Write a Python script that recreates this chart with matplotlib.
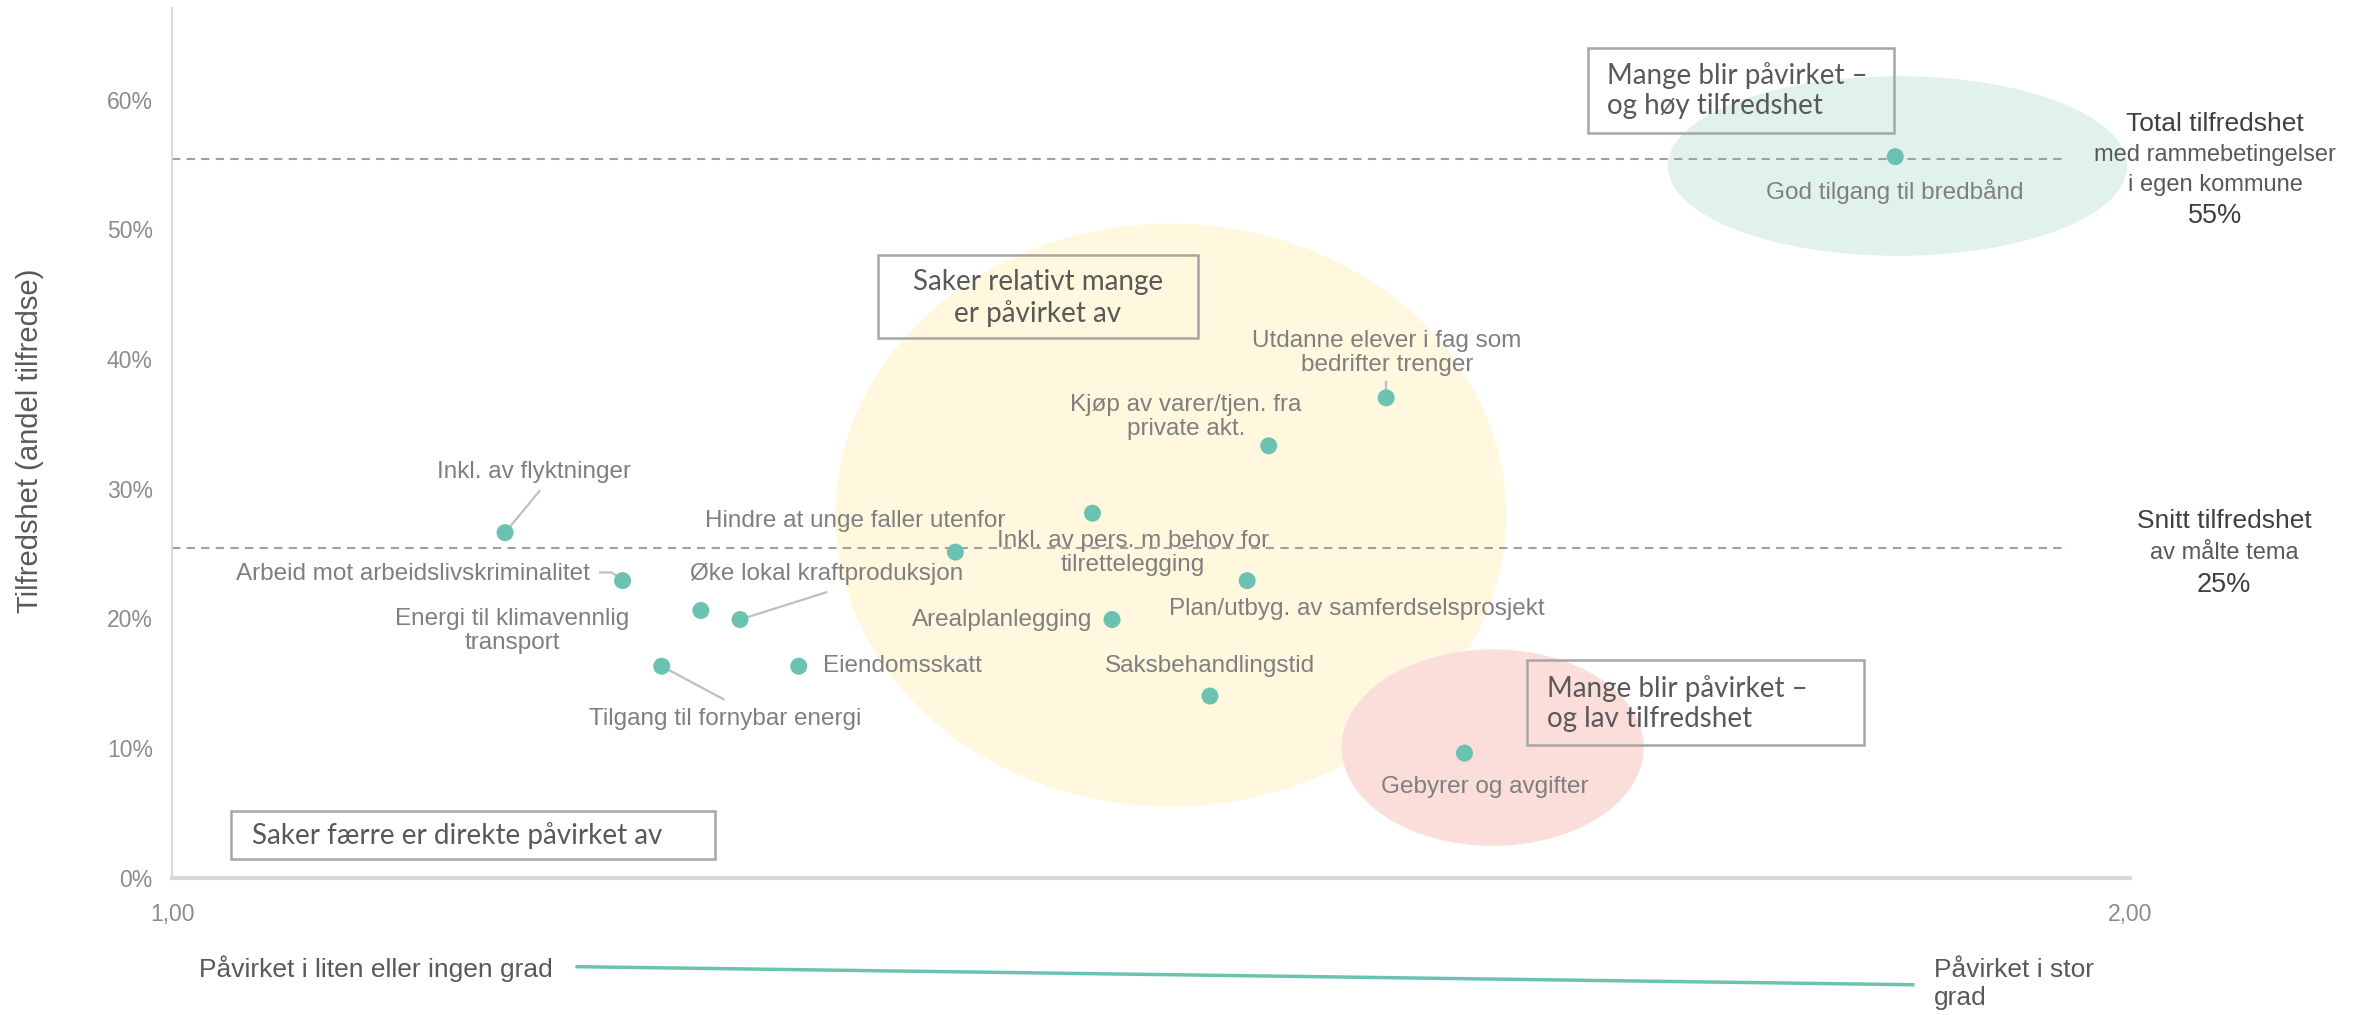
import matplotlib
matplotlib.use("Agg")
import matplotlib.pyplot as plt
from matplotlib.patches import Ellipse, Rectangle
from matplotlib.lines import Line2D
from matplotlib.ticker import FuncFormatter

# ---------------- data ----------------
topics = [
    "Inkl. av flyktninger",
    "Arbeid mot arbeidslivskriminalitet",
    "Energi til klimavennlig\ntransport",
    "Øke lokal kraftproduksjon",
    "Tilgang til fornybar energi",
    "Eiendomsskatt",
    "Hindre at unge faller utenfor",
    "Inkl. av pers. m behov for\ntilrettelegging",
    "Kjøp av varer/tjen. fra\nprivate akt.",
    "Utdanne elever i fag som\nbedrifter trenger",
    "Plan/utbyg. av samferdselsprosjekt",
    "Arealplanlegging",
    "Saksbehandlingstid",
    "Gebyrer og avgifter",
    "God tilgang til bredbånd",
]
affected = [1.170, 1.230, 1.270, 1.290, 1.250, 1.320, 1.400, 1.470,
            1.560, 1.620, 1.549, 1.480, 1.530, 1.660, 1.880]
satisfaction = [0.266, 0.229, 0.206, 0.199, 0.163, 0.163, 0.251, 0.281,
                0.333, 0.370, 0.229, 0.199, 0.140, 0.096, 0.556]

total_satisfaction = 0.554
avg_satisfaction = 0.254
y_ticks = [0.0, 0.1, 0.2, 0.3, 0.4, 0.5, 0.6]
x_ticks = [1.0, 2.0]
x_tick_labels = ["1,00", "2,00"]

# ---------------- layout (label text positions, data coords) ----------------
label_layout = [
    (1.185, 0.313, "center"),
    (1.2135, 0.234, "right"),
    (1.1736, 0.190, "center"),
    (1.334, 0.234, "center"),
    (1.2824, 0.122, "center"),
    (1.3326, 0.163, "left"),
    (1.3488, 0.275, "center"),
    (1.4907, 0.2505, "center"),
    (1.5177, 0.3554, "center"),
    (1.6204, 0.4043, "center"),
    (1.605, 0.2074, "center"),
    (1.470, 0.199, "right"),
    (1.530, 0.163, "center"),
    (1.6705, 0.070, "center"),
    (1.8796, 0.529, "center"),
]
leaders = {
    0: [(1.1875, 0.298)],
    1: [(1.2245, 0.2353), (1.2185, 0.2353)],
    3: [(1.334, 0.220)],
    4: [(1.2816, 0.1375)],
    9: [(1.620, 0.382)],
}

TEAL = "#6CC2B0"
LABEL_C = "#7F7F7F"
DARK = "#595959"
LABEL_FONT = ["Liberation Sans", "DejaVu Sans"]
NARROW_FONT = ["Liberation Sans Narrow", "Liberation Sans", "DejaVu Sans"]
BOX_FONT = ["Lato", "DejaVu Sans"]

fig = plt.figure(figsize=(23.69, 10.15), dpi=100)
ax = fig.add_axes([0.0727, 0.1354, 0.8265, 0.8572])
ax.set_xlim(1.0, 2.0)
ax.set_ylim(0.0, 0.671)

# background ellipses
ax.add_patch(Ellipse((1.510, 0.2796), 0.3426, 0.4497, facecolor="#FFF7DE",
                     edgecolor="none", zorder=0))
ax.add_patch(Ellipse((1.6744, 0.1002), 0.1543, 0.1515, facecolor="#FBDEDA",
                     edgecolor="none", zorder=0))
ax.add_patch(Ellipse((1.8812, 0.5488), 0.2346, 0.1386, facecolor="#E1F2EE",
                     edgecolor="none", zorder=0))

# reference lines
ax.plot([1.0, 1.968], [total_satisfaction] * 2, ls=(0, (4, 3)), color="#A0A0A0",
        lw=1.5, zorder=1)
ax.plot([1.0, 1.968], [avg_satisfaction] * 2, ls=(0, (4, 3)), color="#A0A0A0",
        lw=1.5, zorder=1)

# points
ax.scatter(affected, satisfaction, s=150, color=TEAL, edgecolor="none", zorder=4)

# labels & leaders
for i, (name, px, py) in enumerate(zip(topics, affected, satisfaction)):
    tx, ty, ha = label_layout[i]
    ax.text(tx, ty, name, ha=ha, va="center", fontsize=17.5, color=LABEL_C,
            family=LABEL_FONT, multialignment="center", linespacing=1.1, zorder=5)
    if i in leaders:
        pts = [(px, py)] + leaders[i]
        ax.add_line(Line2D([p[0] for p in pts], [p[1] for p in pts],
                           color="#BFBFBF", lw=1.6, zorder=3))

# axes styling
for s in ["top", "right"]:
    ax.spines[s].set_visible(False)
ax.spines["left"].set_color("#D9D9D9")
ax.spines["left"].set_linewidth(1.5)
ax.spines["bottom"].set_color("#D9D9D9")
ax.spines["bottom"].set_linewidth(3)
ax.set_yticks(y_ticks)
ax.yaxis.set_major_formatter(FuncFormatter(lambda v, p: f"{v*100:.0f}%"))
ax.set_xticks(x_ticks)
ax.set_xticklabels(x_tick_labels)
ax.tick_params(length=0, colors="#8C8C8C", labelsize=16.5)
ax.tick_params(axis="y", pad=14)
ax.tick_params(axis="x", pad=18)
for lab in ax.get_xticklabels() + ax.get_yticklabels():
    lab.set_family(NARROW_FONT)
ax.patch.set_alpha(0)

# quadrant boxes (axes fraction)
boxes = [
    (0.0301, 0.0208, 0.2469, 0.0556, "Saker færre er direkte påvirket av", 0.0409, 0.0486, "left"),
    (0.3603, 0.6198, 0.1636, 0.0955, "Saker relativt mange\ner påvirket av", 0.4421, 0.666, "center"),
    (0.7230, 0.8559, 0.1566, 0.0972, "Mange blir påvirket –\nog høy tilfredshet", 0.733, 0.9045, "left"),
    (0.6921, 0.1528, 0.1721, 0.0972, "Mange blir påvirket –\nog lav tilfredshet", 0.7022, 0.1997, "left"),
]
for x0, y0, w, h, txt, tx, ty, ha in boxes:
    ax.add_patch(Rectangle((x0, y0), w, h, transform=ax.transAxes, fill=False,
                           edgecolor="#A6A6A6", lw=1.8, zorder=6))
    ax.text(tx, ty, txt, transform=ax.transAxes, ha=ha, va="center",
            fontsize=20, color=DARK, family=BOX_FONT, multialignment=ha,
            linespacing=1.2, zorder=7)

# y label
fig.text(0.0128, 0.5655, "Tilfredshet (andel tilfredse)", rotation=90,
         ha="center", va="center", fontsize=21, color=DARK, family=LABEL_FONT)

# right side annotations
fig.text(0.935, 0.878, "Total tilfredshet", ha="center", va="center",
         fontsize=19, color="#404040", family=LABEL_FONT)
fig.text(0.935, 0.847, "med rammebetingelser", ha="center", va="center",
         fontsize=17, color=DARK, family=LABEL_FONT)
fig.text(0.935, 0.818, "i egen kommune", ha="center", va="center",
         fontsize=17, color=DARK, family=LABEL_FONT)
fig.text(0.935, 0.787, f"{total_satisfaction*100:.0f}%", ha="center", va="center",
         fontsize=19.5, color="#404040", family=LABEL_FONT)

fig.text(0.9388, 0.4866, "Snitt tilfredshet", ha="center", va="center",
         fontsize=19, color="#404040", family=LABEL_FONT)
fig.text(0.9388, 0.4554, "av målte tema", ha="center", va="center",
         fontsize=17, color=DARK, family=LABEL_FONT)
fig.text(0.9388, 0.4241, f"{avg_satisfaction*100:.0f}%", ha="center", va="center",
         fontsize=19.5, color="#404040", family=LABEL_FONT)

# bottom axis explanation
fig.text(0.0842, 0.0461, "Påvirket i liten eller ingen grad", ha="left", va="center",
         fontsize=19, color=DARK, family=LABEL_FONT)
fig.add_artist(Line2D([0.2436, 0.8074], [0.0476, 0.0298], color=TEAL, lw=2.5,
                      transform=fig.transFigure))
fig.text(0.8163, 0.0305, "Påvirket i stor\ngrad", ha="left", va="center",
         fontsize=19, color=DARK, family=LABEL_FONT, linespacing=1.2)

fig.savefig("out.png", dpi=100, facecolor="white")
